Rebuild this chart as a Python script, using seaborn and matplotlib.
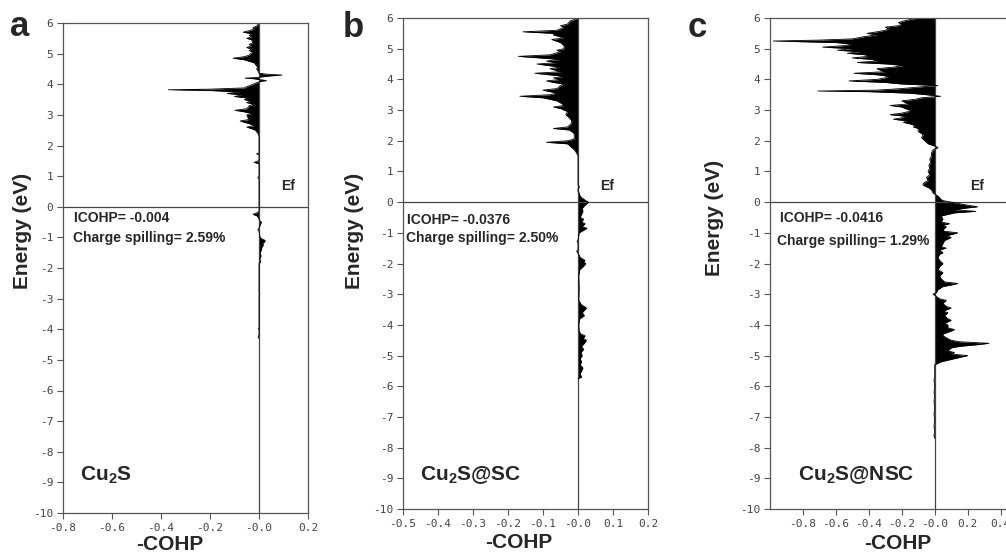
import numpy as np
import pandas as pd
import matplotlib
matplotlib.use("Agg")
import matplotlib.pyplot as plt
import seaborn as sns

# ---------------- data ----------------
# Panel a: Cu2S
energy_a = [-4.30, -4.25, -4.20, -4.00, -3.98, -3.95, -2.85, -2.82, -2.80,
            -1.85, -1.80, -1.70, -1.60, -1.50, -1.40, -1.30, -1.25, -1.20, -1.15, -1.10, -1.05, -1.00,
            -0.80, -0.75, -0.70, -0.60, -0.50, -0.45, -0.40, -0.30, -0.25, -0.20, -0.15,
            0.90, 0.95, 1.00, 1.40, 1.45, 1.50, 1.55, 1.70, 1.73, 1.76,
            2.30, 2.40, 2.50, 2.55, 2.60, 2.65, 2.70, 2.80, 2.85, 2.90, 3.00, 3.05, 3.10, 3.15, 3.20,
            3.30, 3.35, 3.40, 3.45, 3.50, 3.55, 3.60, 3.65, 3.70, 3.75, 3.80, 3.82, 3.84, 3.88, 3.92,
            3.98, 4.05, 4.10, 4.12, 4.15, 4.18, 4.20, 4.22, 4.27, 4.30, 4.33, 4.36, 4.45, 4.50, 4.55,
            4.60, 4.70, 4.75, 4.80, 4.85, 4.90, 4.95, 5.00, 5.05, 5.10, 5.15, 5.20, 5.25, 5.30, 5.35,
            5.45, 5.50, 5.55, 5.60, 5.65, 5.70, 5.75, 5.80, 5.85, 5.90, 5.95, 6.00]
cohp_a = [0, -0.004, 0, 0, -0.003, 0, 0, 0.003, 0,
          0, 0.006, 0.003, 0.008, 0.004, 0.010, 0.012, 0.018, 0.014, 0.022, 0.025, 0.012, 0.004,
          0, -0.005, 0, 0.004, 0.010, 0.002, 0, -0.008, -0.024, -0.010, 0,
          0, -0.005, 0, 0, -0.020, -0.003, 0, 0, -0.010, 0,
          0, -0.005, -0.015, -0.030, -0.050, -0.020, -0.035, -0.077, -0.040, -0.045, -0.050, -0.030, -0.060, -0.098, -0.050,
          -0.040, -0.020, -0.050, -0.035, -0.060, -0.045, -0.100, -0.070, -0.130, -0.080, -0.210, -0.370, -0.200, -0.060, -0.050,
          -0.030, -0.010, 0.010, 0.030, 0.005, -0.020, -0.057, -0.010, 0.040, 0.094, 0.030, 0, -0.005, -0.010, -0.005,
          -0.010, -0.020, -0.040, -0.060, -0.106, -0.060, -0.040, -0.035, -0.025, -0.040, -0.030, -0.050, -0.030, -0.040, -0.025,
          -0.030, -0.050, -0.030, -0.040, -0.030, -0.065, -0.040, -0.020, -0.025, -0.010, -0.005, 0]

# Panel b: Cu2S@SC
energy_b = [-5.75, -5.70, -5.60, -5.50, -5.40, -5.30, -5.20, -5.10, -5.00, -4.90, -4.80, -4.70, -4.60, -4.50,
            -4.45, -4.35, -4.30, -4.20, -4.00, -3.80, -3.70, -3.60, -3.50, -3.45, -3.40, -3.35, -3.20, -2.80,
            -2.40, -2.20, -2.10, -2.00, -1.95, -1.90, -1.80, -1.70, -1.60, -1.55, -1.30, -1.28, -1.25, -1.00,
            -0.90, -0.85, -0.80, -0.70, -0.65, -0.55, -0.50, -0.40, -0.30, -0.20, -0.10, -0.05, 0.00, 0.05,
            0.10, 0.15, 0.20, 0.30, 0.35, 0.45, 0.50, 0.55,
            1.50, 1.60, 1.70, 1.80, 1.90, 1.95, 2.00, 2.05, 2.15, 2.25, 2.35, 2.40, 2.45, 2.55, 2.65, 2.75,
            2.85, 2.95, 3.05, 3.10, 3.15, 3.20, 3.30, 3.35, 3.40, 3.45, 3.50, 3.55, 3.65, 3.70, 3.80, 3.85,
            3.90, 3.95, 4.00, 4.05, 4.10, 4.20, 4.25, 4.35, 4.40, 4.50, 4.55, 4.60, 4.65, 4.75, 4.80, 4.90,
            4.95, 5.00, 5.10, 5.20, 5.30, 5.35, 5.45, 5.50, 5.55, 5.60, 5.70, 5.75, 5.80, 5.90, 5.95, 6.00]
cohp_b = [0, 0.010, 0.006, 0.010, 0.014, 0.006, 0.010, 0.006, 0.012, 0.008, 0.016, 0.010, 0.018, 0.024,
          0.015, 0.020, 0.008, 0.003, 0.002, 0.005, 0.018, 0.012, 0.020, 0.024, 0.018, 0.010, 0.002, 0.003,
          0.002, 0.005, 0.015, 0.022, 0.015, 0.020, 0.006, 0.002, -0.004, 0, 0, -0.003, 0, 0.003,
          0.018, 0.026, 0.012, 0.020, 0.010, 0.016, 0.006, 0.010, 0.014, 0.012, 0.020, 0.025, 0.030, 0.022,
          0.016, 0.010, 0.006, 0.003, 0, 0, 0.004, 0,
          0, -0.004, -0.010, -0.020, -0.030, -0.090, -0.030, -0.012, -0.010, -0.012, -0.025, -0.070, -0.030, -0.020, -0.018, -0.025,
          -0.035, -0.030, -0.050, -0.070, -0.040, -0.045, -0.060, -0.080, -0.100, -0.166, -0.080, -0.060, -0.100, -0.060, -0.050, -0.040,
          -0.070, -0.090, -0.050, -0.070, -0.040, -0.123, -0.050, -0.080, -0.050, -0.117, -0.060, -0.090, -0.050, -0.170, -0.080, -0.050,
          -0.060, -0.040, -0.040, -0.050, -0.075, -0.040, -0.070, -0.070, -0.157, -0.060, -0.040, -0.050, -0.030, -0.023, -0.010, 0]

# Panel c: Cu2S@NSC
energy_c = [-7.70, -7.60, -7.50, -7.30, -7.10, -6.90, -6.70, -6.50, -6.30, -6.20, -6.00, -5.80, -5.70,
            -5.30, -5.20, -5.10, -5.05, -5.00, -4.95, -4.90, -4.85, -4.75, -4.70, -4.65, -4.60, -4.55, -4.50,
            -4.45, -4.35, -4.30, -4.20, -4.15, -4.10, -4.00, -3.95, -3.85, -3.80, -3.70, -3.60, -3.55, -3.45,
            -3.40, -3.30, -3.20, -3.15, -3.05, -3.00, -2.95, -2.85, -2.75, -2.70, -2.65, -2.60, -2.50, -2.40,
            -2.30, -2.20, -2.10, -2.00, -1.90, -1.80, -1.70, -1.65, -1.55, -1.50, -1.45, -1.35, -1.25, -1.20,
            -1.15, -1.10, -1.00, -0.95, -0.90, -0.80, -0.75, -0.70, -0.65, -0.55, -0.45, -0.35, -0.30, -0.25,
            -0.20, -0.15, -0.10, -0.05, 0.00, 0.05, 0.10, 0.15, 0.20, 0.25, 0.30, 0.40, 0.45, 0.50, 0.55,
            0.60, 0.65, 0.70, 0.80, 0.90, 1.00, 1.10, 1.20, 1.30, 1.40, 1.50, 1.60, 1.70, 1.78, 1.82, 1.90,
            2.00, 2.10, 2.20, 2.30, 2.40, 2.45, 2.50, 2.55, 2.60, 2.65, 2.70, 2.75, 2.80, 2.85, 2.90, 2.95,
            3.00, 3.05, 3.10, 3.15, 3.20, 3.25, 3.30, 3.35, 3.40, 3.45, 3.50, 3.55, 3.60, 3.62, 3.65, 3.70,
            3.75, 3.80, 3.85, 3.90, 3.95, 4.00, 4.05, 4.10, 4.15, 4.20, 4.25, 4.30, 4.35, 4.40, 4.45, 4.50,
            4.55, 4.60, 4.65, 4.70, 4.75, 4.80, 4.85, 4.90, 4.95, 5.00, 5.05, 5.10, 5.15, 5.20, 5.25, 5.28,
            5.32, 5.40, 5.45, 5.50, 5.55, 5.60, 5.65, 5.70, 5.75, 5.80, 5.85, 5.90, 5.95, 6.00]
cohp_c = [0, -0.005, 0, -0.004, 0, -0.004, 0, -0.004, 0, -0.004, 0, -0.004, 0,
          0, 0.04, 0.12, 0.16, 0.20, 0.10, 0.12, 0.08, 0.10, 0.15, 0.25, 0.33, 0.15, 0.10,
          0.08, 0.05, 0.05, 0.10, 0.12, 0.08, 0.08, 0.06, 0.10, 0.08, 0.06, 0.08, 0.05, 0.10,
          0.07, 0.05, 0.07, 0.03, 0.005, -0.01, 0.01, 0.02, 0.05, 0.10, 0.14, 0.06, 0.04, 0.03,
          0.05, 0.02, 0.03, 0.05, 0.03, 0.02, 0.03, 0.05, 0.03, 0.07, 0.04, 0.05, 0.06, 0.08,
          0.10, 0.07, 0.14, 0.06, 0.05, 0.07, 0.05, 0.09, 0.04, 0.05, 0.04, 0.12, 0.25, 0.12,
          0.18, 0.26, 0.20, 0.15, 0.10, 0.05, 0.035, 0.03, 0.02, 0.005, -0.01, -0.02, -0.03, -0.05, -0.07,
          -0.07, -0.06, -0.04, -0.05, -0.03, -0.04, -0.03, -0.035, -0.025, -0.03, -0.02, -0.02, -0.01, 0.02, 0.005, -0.04,
          -0.06, -0.08, -0.07, -0.10, -0.10, -0.13, -0.12, -0.15, -0.19, -0.17, -0.25, -0.20, -0.18, -0.27, -0.20, -0.16,
          -0.15, -0.18, -0.20, -0.27, -0.16, -0.18, -0.20, -0.12, -0.08, 0.036, -0.05, -0.15, -0.40, -0.71, -0.35, -0.20,
          -0.10, 0.02, -0.20, -0.30, -0.52, -0.35, -0.30, -0.28, -0.35, -0.49, -0.30, -0.33, -0.35, -0.25, -0.19, -0.28,
          -0.47, -0.35, -0.38, -0.50, -0.40, -0.42, -0.53, -0.45, -0.59, -0.50, -0.68, -0.55, -0.50, -0.60, -0.98, -0.70,
          -0.50, -0.42, -0.35, -0.41, -0.35, -0.30, -0.28, -0.30, -0.22, -0.20, -0.22, -0.19, -0.15, -0.10]

panel_letters = ["a", "b", "c"]
icohp_labels = ["ICOHP= -0.004", "ICOHP= -0.0376", "ICOHP= -0.0416"]
spill_labels = ["Charge spilling= 2.59%", "Charge spilling= 2.50%", "Charge spilling= 1.29%"]
names = [r"$\mathbf{Cu_{2}S}$", r"$\mathbf{Cu_{2}S@SC}$", r"$\mathbf{Cu_{2}S@NSC}$"]
xticks_a = [-0.8, -0.6, -0.4, -0.2, 0.0, 0.2]
xticks_b = [-0.5, -0.4, -0.3, -0.2, -0.1, 0.0, 0.1, 0.2]
xticks_c = [-0.8, -0.6, -0.4, -0.2, 0.0, 0.2, 0.4]
xticklabels_a = ["-0.8", "-0.6", "-0.4", "-0.2", "-0.0", "0.2"]
xticklabels_b = ["-0.5", "-0.4", "-0.3", "-0.2", "-0.1", "-0.0", "0.1", "0.2"]
xticklabels_c = ["-0.8", "-0.6", "-0.4", "-0.2", "-0.0", "0.2", "0.4"]
yticks = list(range(-10, 7))

# ---------------- style ----------------
sns.set_style("ticks")
plt.rcParams["font.family"] = ["Liberation Sans", "DejaVu Sans"]
plt.rcParams["mathtext.fontset"] = "custom"
plt.rcParams["mathtext.bf"] = "Liberation Sans:bold"
plt.rcParams["mathtext.rm"] = "Liberation Sans"

W, H = 1006, 557
fig = plt.figure(figsize=(W / 100, H / 100), dpi=100)

def px_axes(l, r, t, b):
    return [l / W, (H - b) / H, (r - l) / W, (b - t) / H]

panels = [
    dict(rect=px_axes(63, 308, 23, 513), E=energy_a, v=cohp_a, xlim=(-0.8, 0.2),
         xt=xticks_a, xtl=xticklabels_a, ylab=(-0.167, 0.575), xlab=(0.437, -0.065),
         icohp=(-0.755, -0.36), spill=(-0.758, -1.02), ef=(0.092, 0.69), name=(-0.73, -8.76),
         letter=(10, 36)),
    dict(rect=px_axes(403, 648, 18, 509), E=energy_b, v=cohp_b, xlim=(-0.5, 0.2),
         xt=xticks_b, xtl=xticklabels_b, ylab=(-0.196, 0.566), xlab=(0.473, -0.069),
         icohp=(-0.489, -0.59), spill=(-0.492, -1.17), ef=(0.062, 0.52), name=(-0.45, -8.9),
         letter=(343, 37)),
    dict(rect=px_axes(770, 1017, 18, 509), E=energy_c, v=cohp_c, xlim=(-1.0, 0.5),
         xt=xticks_c, xtl=xticklabels_c, ylab=(-0.223, 0.593), xlab=(0.518, -0.07),
         icohp=(-0.94, -0.52), spill=(-0.956, -1.27), ef=(0.215, 0.52), name=(-0.83, -8.9),
         letter=(688, 37)),
]

spine_c = "#555555"
for i, p in enumerate(panels):
    ax = fig.add_axes(p["rect"])
    df = pd.DataFrame({"energy": p["E"], "cohp": p["v"]})
    ax.fill_betweenx(df["energy"], 0, df["cohp"], color="black", lw=0)
    sns.lineplot(data=df, x="cohp", y="energy", orient="y", sort=False, estimator=None,
                 color="black", lw=0.6, ax=ax)
    ax.axhline(0, color="#444444", lw=0.9, zorder=1)
    ax.axvline(0, color="#444444", lw=0.9, zorder=1)
    ax.set_xlim(*p["xlim"])
    ax.set_ylim(-10, 6)
    ax.set_xticks(p["xt"])
    ax.set_xticklabels(p["xtl"])
    ax.set_yticks(yticks)
    ax.set_yticklabels([str(t) for t in yticks])
    for lab in ax.get_xticklabels() + ax.get_yticklabels():
        lab.set_fontfamily("DejaVu Sans Mono")
        lab.set_fontsize(8)
        lab.set_color("#444444")
    ax.tick_params(direction="out", length=4, width=0.8, color=spine_c, pad=3)
    for s in ax.spines.values():
        s.set_visible(True)
        s.set_color(spine_c)
        s.set_linewidth(0.9)
    ax.set_xlabel("-COHP", fontsize=15, fontweight="bold")
    ax.set_ylabel("Energy (eV)", fontsize=15, fontweight="bold")
    ax.xaxis.label.set_va("center")
    ax.yaxis.label.set_va("center")
    ax.xaxis.set_label_coords(*p["xlab"])
    ax.yaxis.set_label_coords(*p["ylab"])
    ax.text(*p["icohp"], icohp_labels[i], fontsize=10, fontweight="bold", va="center", ha="left")
    ax.text(*p["spill"], spill_labels[i], fontsize=10, fontweight="bold", va="center", ha="left")
    ax.text(*p["ef"], "Ef", fontsize=10, fontweight="bold", va="center", ha="left")
    ax.text(*p["name"], names[i], fontsize=15, va="center", ha="left")
    lx, ly = p["letter"]
    fig.text(lx / W, (H - ly) / H, panel_letters[i], fontsize=25, fontweight="bold",
             ha="left", va="baseline")

fig.savefig("out.png", dpi=100)
